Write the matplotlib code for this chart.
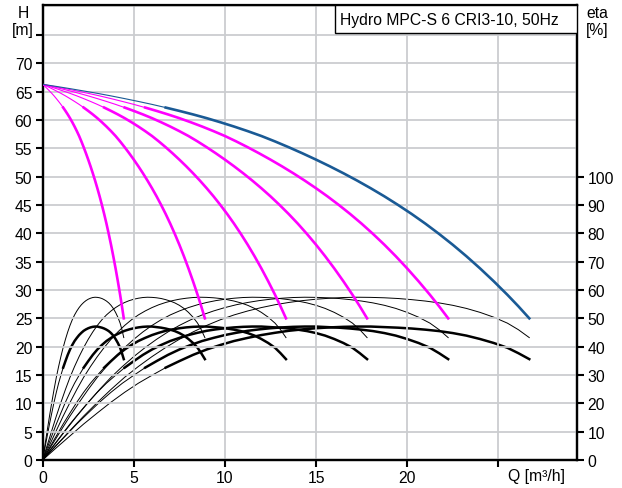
import matplotlib
matplotlib.use("Agg")
import matplotlib.pyplot as plt
from matplotlib.patches import Rectangle

plt.rcParams['font.family'] = ['Liberation Sans', 'DejaVu Sans']

# flow of one pump [m3/h]
q_single = [0, 0.125, 0.25, 0.375, 0.5, 0.625, 0.75, 0.875, 1.0, 1.125, 1.25,
            1.375, 1.5, 1.625, 1.75, 1.875, 2.0, 2.125, 2.25, 2.375, 2.5,
            2.625, 2.75, 2.875, 3.0, 3.125, 3.25, 3.375, 3.5, 3.625, 3.75,
            3.875, 4.0, 4.125, 4.25, 4.35, 4.45]
# head of one pump [m]
head_single = [66.3, 65.93, 65.54, 65.13, 64.71, 64.26, 63.78, 63.28, 62.76, 62.2, 61.61,
               60.99, 60.33, 59.61, 58.85, 58.04, 57.18, 56.22, 55.2, 54.13, 53.01,
               51.84, 50.61, 49.32, 47.96, 46.53, 45.01, 43.41, 41.71, 39.9, 37.99,
               35.96, 33.81, 31.54, 29.15, 27.13, 25.0]
# pump efficiency [%] (thin lines)
eta_pump = [0, 5.2, 10.4, 15.5, 20.3, 24.9, 29.2, 33.0, 36.5, 39.7, 42.6,
            45.2, 47.5, 49.5, 51.2, 52.6, 53.8, 54.8, 55.6, 56.25, 56.75,
            57.1, 57.35, 57.45, 57.4, 57.25, 57.0, 56.6, 56.1, 55.45, 54.6,
            53.5, 52.1, 50.4, 48.3, 46.0, 43.2]
# total efficiency [%] (thick lines)
eta_total = [0, 4.3, 8.5, 12.7, 16.6, 20.4, 23.9, 27.1, 29.9, 32.6, 34.9,
             37.1, 39.0, 40.6, 42.0, 43.1, 44.1, 44.9, 45.6, 46.1, 46.5,
             46.8, 47.0, 47.1, 47.1, 46.9, 46.7, 46.4, 46.0, 45.5, 44.8,
             43.9, 42.7, 41.3, 39.6, 37.7, 35.6]
n_pumps = [1, 2, 3, 4, 5, 6]

x_ticks = [0, 5, 10, 15, 20, 25]
x_labels = ['0', '5', '10', '15', '20', '']
h_ticks = [0, 5, 10, 15, 20, 25, 30, 35, 40, 45, 50, 55, 60, 65, 70, 75]
h_labels = [str(v) for v in h_ticks[:-1]] + ['']
eta_ticks = [0, 10, 20, 30, 40, 50, 60, 70, 80, 90, 100]

title = 'Hydro MPC-S 6 CRI3-10, 50Hz'
split = 9  # thin line below min flow, thick above
fs = 11.3

fig = plt.figure(figsize=(6.22, 4.89), dpi=100)
ax = fig.add_axes([0.0686, 0.0573, 0.8591, 0.9304])
ax2 = ax.twinx()

ax.set_xlim(0, 29.32)
ax.set_ylim(0, 80.3)
ax2.set_ylim(0, 160.6)

grid_c = '#cbcdd0'
for v in x_ticks[1:]:
    ax.axvline(v, color=grid_c, lw=1.3, zorder=0)
for v in h_ticks[1:]:
    ax.axhline(v, color=grid_c, lw=1.3, zorder=0)

# efficiency curves on the eta axis
for n in n_pumps:
    Q = [n * q for q in q_single]
    ax2.plot(Q, eta_pump, color='black', lw=0.7, zorder=3)
    ax2.plot(Q[:split + 1], eta_total[:split + 1], color='black', lw=0.7, zorder=3)
    ax2.plot(Q[split:], eta_total[split:], color='black', lw=1.8, zorder=3)

# pump curves
for n in n_pumps:
    Q = [n * q for q in q_single]
    c = '#1a5a95' if n == 6 else '#ff00ff'
    ax.plot(Q[:split + 1], head_single[:split + 1], color=c, lw=0.8, zorder=4)
    ax.plot(Q[split:], head_single[split:], color=c, lw=1.9, zorder=4)

ax.set_zorder(ax2.get_zorder() + 1)
ax.patch.set_visible(False)

ax.set_xticks(x_ticks)
ax.set_xticklabels(x_labels)
ax.set_yticks(h_ticks)
ax.set_yticklabels(h_labels)
ax2.set_yticks(eta_ticks)

for a in (ax, ax2):
    for s in a.spines.values():
        s.set_color('black')
        s.set_linewidth(1.6)
    a.tick_params(direction='out', length=5, width=1.5, labelsize=fs, pad=2.5)
ax.spines['top'].set_linewidth(1.0)

fig.text(23 / 622, 1 - 14 / 489, 'H', ha='center', va='center', fontsize=fs)
fig.text(23 / 622, 1 - 30 / 489, '[m]', ha='center', va='center', fontsize=fs)
fig.text(586 / 622, 1 - 14 / 489, 'eta', ha='left', va='center', fontsize=fs)
fig.text(586 / 622, 1 - 31 / 489, '[%]', ha='left', va='center', fontsize=fs)
fig.text(508 / 622, 1 - 477 / 489, 'Q [m\u00b3/h]', ha='left', va='center', fontsize=fs)

box = Rectangle((0.547, 0.938), 0.453, 0.062, transform=ax.transAxes,
                facecolor='white', edgecolor='black', lw=1.0, zorder=10)
ax.add_patch(box)
ax.text(0.557, 0.969, title, transform=ax.transAxes, ha='left', va='center',
        fontsize=fs, zorder=11)

fig.savefig('out.png', dpi=100)
